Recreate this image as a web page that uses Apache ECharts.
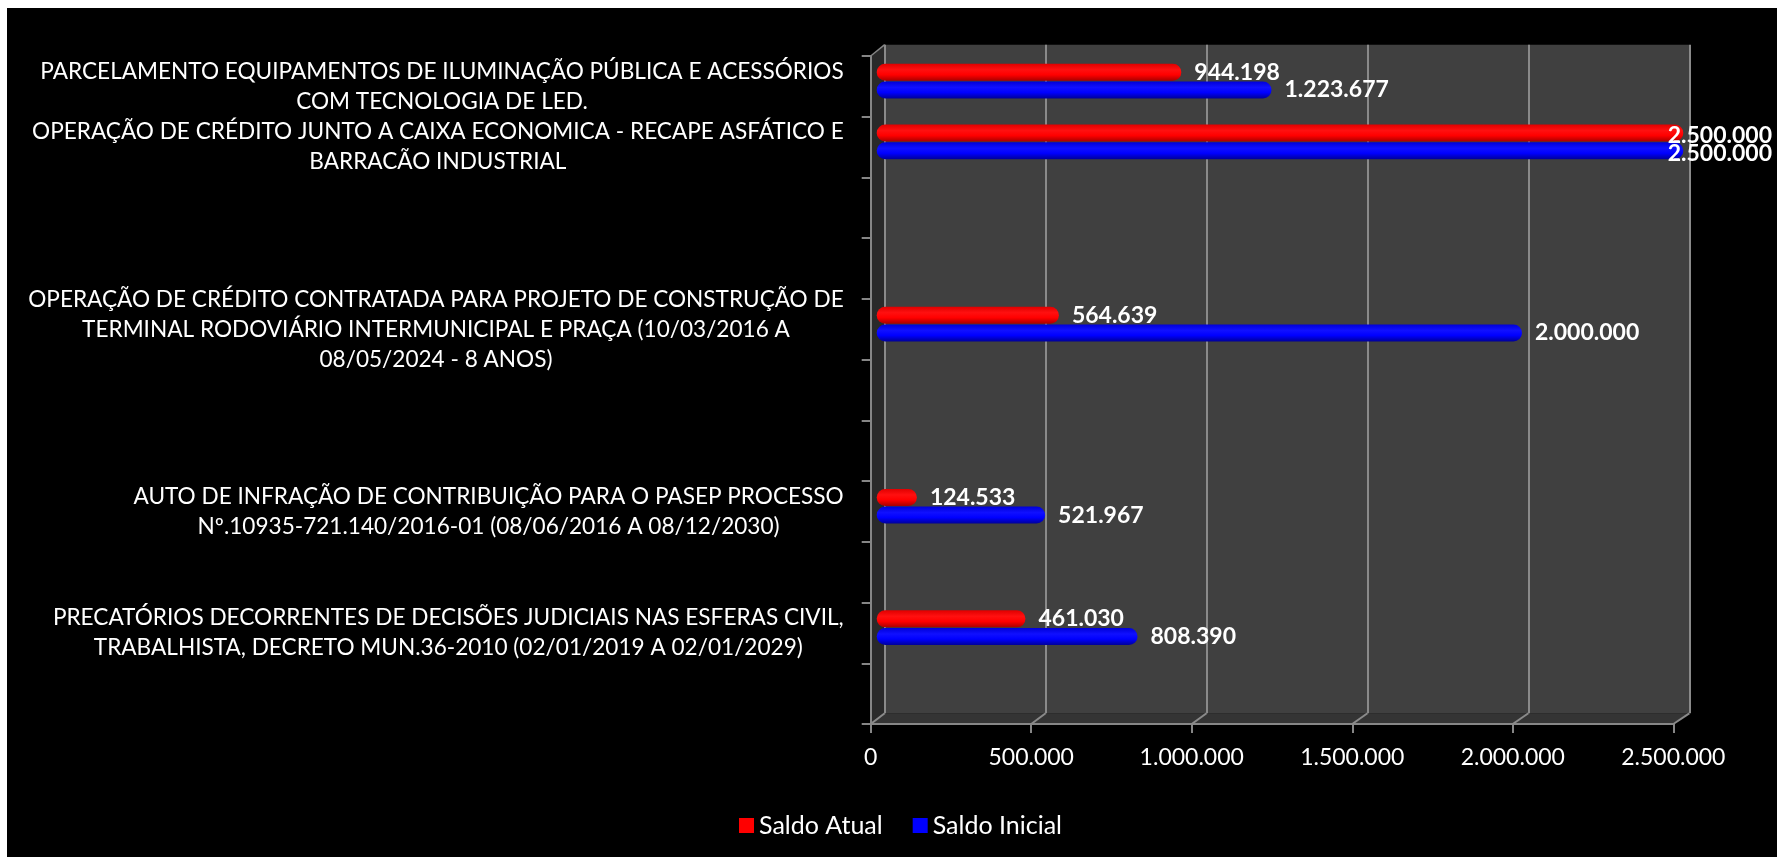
<!DOCTYPE html>
<html><head><meta charset="utf-8">
<script src="https://cdn.jsdelivr.net/npm/echarts@6/dist/echarts.min.js"></script>
<style>html,body{margin:0;padding:0;background:#000;}#c{width:1777px;height:857px;}</style>
</head><body><div id="c"></div>
<script>
// ---- data ----
const categories = [
  'PARCELAMENTO EQUIPAMENTOS DE ILUMINAÇÃO PÚBLICA E ACESSÓRIOS\nCOM TECNOLOGIA DE LED.',
  'OPERAÇÃO DE CRÉDITO JUNTO A CAIXA ECONOMICA - RECAPE ASFÁTICO E\nBARRACÃO INDUSTRIAL',
  '',
  '',
  'OPERAÇÃO DE CRÉDITO CONTRATADA PARA PROJETO DE CONSTRUÇÃO DE\nTERMINAL RODOVIÁRIO INTERMUNICIPAL E PRAÇA (10/03/2016 A\n08/05/2024 - 8 ANOS)',
  '',
  '',
  'AUTO DE INFRAÇÃO DE CONTRIBUIÇÃO PARA O PASEP PROCESSO\nNº.10935-721.140/2016-01 (08/06/2016 A 08/12/2030)',
  '',
  'PRECATÓRIOS DECORRENTES DE DECISÕES JUDICIAIS NAS ESFERAS CIVIL,\nTRABALHISTA, DECRETO MUN.36-2010 (02/01/2019 A 02/01/2029)',
  ''
];
const saldoAtual   = [944198, 2500000, null, null, 564639, null, null, 124533, null, 461030, null];
const saldoInicial = [1223677, 2500000, null, null, 2000000, null, null, 521967, null, 808390, null];
const seriesNames = ['Saldo Atual', 'Saldo Inicial'];
const xMin = 0, xMax = 2500000, xInterval = 500000;

// ---- helpers ----
function fmt(v) { return String(Math.round(v)).replace(/\B(?=(\d{3})+(?!\d))/g, '.'); }
const W = 1777, H = 857;
const FONT = 'Lato, "Open Sans", sans-serif';
const AX = '#868686';

// geometry of the pseudo-3D box
const front = { left: 870.7, top: 56, width: 802.6, height: 668 };
const back  = { left: 884.7, top: 44.7, width: 804.6, height: 668.6 };
const mid   = { left: 876.7, top: 50.8, width: 806.6, height: 668 };

const chart = echarts.init(document.getElementById('c'), null, { renderer: 'canvas' });

function grad(c0, c1, c2, c3) {
  return new echarts.graphic.LinearGradient(0, 0, 0, 1, [
    { offset: 0, color: c0 }, { offset: 0.35, color: c1 },
    { offset: 0.65, color: c2 }, { offset: 1, color: c3 }
  ]);
}

const valueAxisBase = { type: 'value', min: xMin, max: xMax, interval: xInterval };

const option = {
  backgroundColor: '#000',
  animation: false,
  grid: [
    Object.assign({ show: true, backgroundColor: '#404040', borderWidth: 0 }, back),
    Object.assign({}, front),
    Object.assign({}, mid)
  ],
  xAxis: [
    Object.assign({}, valueAxisBase, { gridIndex: 0, axisLine: { show: false }, axisTick: { show: false },
      axisLabel: { show: false }, splitLine: { show: true, lineStyle: { color: '#8a8a8a', width: 2 } } }),
    Object.assign({}, valueAxisBase, { gridIndex: 1,
      axisLine: { show: true, lineStyle: { color: AX, width: 2 } },
      axisTick: { show: true, length: 9, lineStyle: { color: AX, width: 2 } },
      axisLabel: { color: '#fff', fontSize: 23, fontFamily: FONT, margin: 22, formatter: v => fmt(v) },
      splitLine: { show: false } }),
    Object.assign({}, valueAxisBase, { gridIndex: 2, show: false, splitLine: { show: false } })
  ],
  yAxis: [
    { type: 'category', gridIndex: 0, inverse: true, data: categories, show: false },
    { type: 'category', gridIndex: 1, inverse: true, data: categories,
      axisLine: { show: true, lineStyle: { color: AX, width: 2 } },
      axisTick: { show: true, length: 9, interval: 0, lineStyle: { color: AX, width: 2 } },
      axisLabel: {
        interval: 0, margin: 27, align: 'right', color: '#fff',
        formatter: v => v ? v.split('\n').map(l => '{c|' + l + '}').join('\n') : '',
        rich: { c: { align: 'center', fontSize: 22.6, lineHeight: 30, color: '#fff', fontFamily: FONT } }
      },
      splitLine: { show: false } },
    { type: 'category', gridIndex: 2, inverse: true, data: categories, show: false }
  ],
  legend: {
    left: 734, top: 808, itemWidth: 15, itemHeight: 15, itemGap: 30, icon: 'rect',
    textStyle: { color: '#fff', fontSize: 25, fontFamily: FONT },
    data: [
      { name: seriesNames[0], itemStyle: { color: '#ff0000' } },
      { name: seriesNames[1], itemStyle: { color: '#0000ff' } }
    ]
  },
  series: [
    { name: seriesNames[0], type: 'bar', xAxisIndex: 2, yAxisIndex: 2, data: saldoAtual,
      barWidth: 17, barGap: '4%', z: 3,
      itemStyle: { color: grad('#e00000', '#ff1010', '#ff0000', '#a80000'), borderRadius: 8.5 },
      label: { show: true, position: 'right', distance: 13, offset: [0, 3], color: '#fff',
        fontWeight: 'bold', fontSize: 23, fontFamily: FONT, formatter: p => fmt(p.value) } },
    { name: seriesNames[1], type: 'bar', xAxisIndex: 2, yAxisIndex: 2, data: saldoInicial,
      barWidth: 17, z: 2,
      itemStyle: { color: grad('#0000d8', '#1010ff', '#0000ff', '#000098'), borderRadius: 8.5 },
      label: { show: true, position: 'right', distance: 13, offset: [0, 3], color: '#fff',
        fontWeight: 'bold', fontSize: 23, fontFamily: FONT, formatter: p => fmt(p.value) } }
  ],
  labelLayout: function (p) {
    const r = p.labelRect;
    if (r && r.x + r.width > W - 5) {
      return { x: W - 5, y: r.y + r.height / 2, align: 'right', verticalAlign: 'middle' };
    }
    return {};
  }
};
chart.setOption(option);

// decorative 3D walls (side wall + floor + floor grid diagonals), derived from the axes
const els = [
  { type: 'rect', shape: { x: 0, y: 0, width: W, height: 8 }, style: { fill: '#fff' }, z: 100 },
  { type: 'rect', shape: { x: 0, y: 0, width: 7, height: H }, style: { fill: '#fff' }, z: 100 },
  { type: 'polygon', z: -1, shape: { points: [
      [front.left + 1, front.top], [back.left, back.top], [back.left, back.top + back.height],
      [front.left + 1, front.top + front.height]] }, style: { fill: '#2a2a2a' } },
  { type: 'polygon', z: -1, shape: { points: [
      [front.left, front.top + front.height - 1], [back.left, back.top + back.height],
      [back.left + back.width, back.top + back.height], [front.left + front.width, front.top + front.height - 1]] },
    style: { fill: '#343434' } },
  { type: 'line', z: 1, shape: { x1: front.left, y1: front.top, x2: back.left, y2: back.top },
    style: { stroke: AX, lineWidth: 1.5 } }
];
for (let v = xMin; v <= xMax; v += xInterval) {
  const xf = chart.convertToPixel({ xAxisIndex: 1 }, v);
  const xb = chart.convertToPixel({ xAxisIndex: 0 }, v);
  els.push({ type: 'line', z: 1, shape: { x1: xf, y1: front.top + front.height, x2: xb, y2: back.top + back.height },
    style: { stroke: '#8a8a8a', lineWidth: 2 } });
}
chart.setOption({ graphic: { elements: els } });
</script></body></html>
